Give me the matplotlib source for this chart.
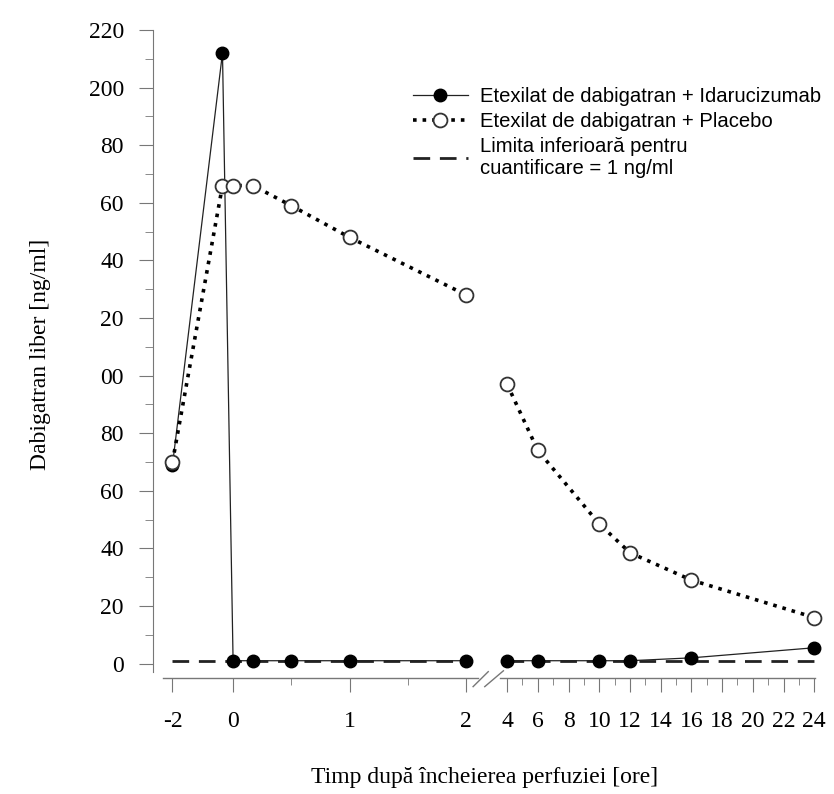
import numpy as np
import matplotlib
matplotlib.use("Agg")
import matplotlib.pyplot as plt
from matplotlib.lines import Line2D

# data (hours after end of infusion, ng/ml)
hours_ida = [-2, -0.35, 0, 0.17, 0.5, 1, 2, 4, 6, 10, 12, 16, 24]
conc_ida = [69, 212, 1, 1, 1, 1, 1, 1, 1, 1, 1, 2, 5.5]
hours_pla = [-2, -0.35, 0, 0.17, 0.5, 1, 2, 4, 6, 10, 12, 16, 24]
conc_pla = [70, 166, 166, 166, 159, 148, 128, 97, 74, 48.5, 38.5, 29, 16]
lloq = 1

major_h = [-2, 0, 1, 2, 4, 6, 8, 10, 12, 14, 16, 18, 20, 22, 24]
minor_h = [0.5, 1.5, 5, 7, 9, 11, 13, 15, 17, 19, 21, 23]
yticks = list(range(0, 221, 20))
ylabels = ['0', '20', '40', '60', '80', '00', '20', '40', '60', '80', '200', '220']


def to_pos(h):
    # broken time axis: compressed before 0, linear 0-2, compressed after 4
    h = np.asarray(h, dtype=float)
    return np.where(h <= 0, h * 0.26,
                    np.where(h <= 2, h, 2.352 + (h - 4) * 0.1318))


serif = 'Liberation Serif'
fig = plt.figure(figsize=(8.34, 7.94), dpi=100)
ax = fig.add_axes([0.1835, 0.1461, 0.7945, 0.8161])

xi = to_pos(hours_ida)
xp = to_pos(hours_pla)
cut = 7  # index where 4 h starts (after axis break)

for sl in (slice(0, cut), slice(cut, None)):
    ax.plot(xi[sl], conc_ida[sl], '-', color='#222222', lw=0.9, zorder=2)
    ax.plot(xp[sl], conc_pla[sl], ':', color='black', lw=2.6, zorder=2)
    ax.plot([xi[sl][0], xi[sl][-1]], [lloq, lloq], '--', color='#222222',
            lw=2.0, dashes=(6, 3.5), zorder=1)

ax.plot(xi, conc_ida, 'o', color='black', ms=9, ls='none', zorder=3,
        clip_on=False)
ax.plot(xp, conc_pla, 'o', mfc='white', mec='#333333', mew=1.3, ms=10,
        ls='none', zorder=4, clip_on=False)

ax.set_xlim(-0.687, 5.0)
ax.set_ylim(-5, 220)

for s in ('top', 'right', 'bottom'):
    ax.spines[s].set_visible(False)
ax.spines['left'].set_color('#777777')
ax.spines['left'].set_bounds(-3, 220)

# x axis drawn in two pieces with break marks
ax.plot([-0.60, 2.10], [-5, -5], color='#777777', lw=1.0, clip_on=False)
ax.plot([2.29, 4.995], [-5, -5], color='#777777', lw=1.0, clip_on=False)
ax.plot([2.06, 2.19], [-8, -2.8], color='#777777', lw=1.0, clip_on=False)
ax.plot([2.16, 2.32], [-8, -2.5], color='#777777', lw=1.0, clip_on=False)

ax.set_xticks(to_pos(major_h))
ax.set_xticklabels([str(h) for h in major_h], fontfamily=serif, fontsize=17)
ax.set_xticks(to_pos(minor_h), minor=True)
ax.set_yticks(yticks)
ax.set_yticklabels(ylabels, fontfamily=serif, fontsize=17)
ax.set_yticks(range(10, 220, 20), minor=True)
ax.tick_params(axis='x', which='major', length=10, color='#777777', pad=14)
ax.tick_params(axis='x', which='minor', length=5, color='#777777')
ax.tick_params(axis='y', which='major', length=10, color='#777777', pad=11)
ax.tick_params(axis='y', which='minor', length=6, color='#777777')

ax.set_ylabel('Dabigatran liber [ng/ml]', fontfamily=serif, fontsize=17,
              labelpad=27)
ax.set_xlabel('Timp după încheierea perfuziei [ore]', fontfamily=serif,
              fontsize=17, labelpad=25)

handles = [
    Line2D([], [], color='#222222', lw=0.9, marker='o', ms=9, mfc='black',
           mec='black'),
    Line2D([], [], color='black', ls=':', lw=2.6, marker='o', ms=10,
           mfc='white', mec='#333333', mew=1.3),
    Line2D([], [], color='#222222', ls='--', lw=2.0, dashes=(6, 3.5)),
]
labels = ['Etexilat de dabigatran + Idarucizumab',
          'Etexilat de dabigatran + Placebo',
          'Limita inferioară pentru\ncuantificare = 1 ng/ml']
ax.legend(handles, labels, loc='upper left', bbox_to_anchor=(0.38, 0.925),
          frameon=False, prop={'family': 'Liberation Sans', 'size': 14.6},
          handlelength=2.7, handletextpad=0.6, labelspacing=0.3,
          borderaxespad=0)

fig.savefig('out.png', dpi=100)
